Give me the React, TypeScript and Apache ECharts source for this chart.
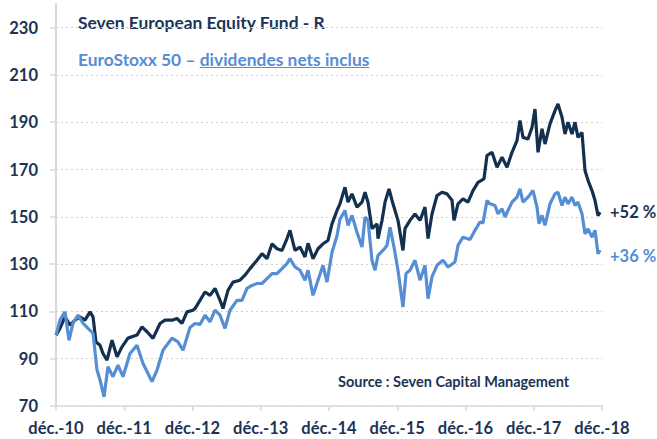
import React, { useEffect, useRef } from 'react';
import * as echarts from 'echarts';

// ---- Data (months since Dec 2010, index value base 100) ----
const xLabels = ['déc.-10', 'déc.-11', 'déc.-12', 'déc.-13', 'déc.-14', 'déc.-15', 'déc.-16', 'déc.-17', 'déc.-18'];
const yTicks = [70, 90, 110, 130, 150, 170, 190, 210, 230];

const seriesNames = ['Seven European Equity Fund - R', 'EuroStoxx 50 – dividendes nets inclus'];
const legendPrefix = 'EuroStoxx 50 – ';
const legendUnderlined = 'dividendes nets inclus';
const endLabels = ['+52 %', '+36 %'];
const sourceText = 'Source : Seven Capital Management';

const fundMonths = [
  0, 0.7, 1.58, 2.46, 3.34, 4.22, 5.1, 5.98, 6.51, 7.03, 7.74, 8.26, 8.97, 9.85, 10.73, 11.6, 12.66, 14.24, 15.12, 16.0,
  17.05, 18.29, 19.16, 20.4, 21.27, 22.15, 23.03, 24.09, 24.44, 25.32, 26.2, 27.08, 27.96, 28.84, 29.36, 30.24, 31.12,
  32.35, 33.23, 34.11, 35.34, 36.22, 37.1, 37.98, 38.86, 39.74, 40.62, 41.14, 42.02, 42.9, 43.78, 44.31, 45.19, 46.07,
  46.95, 47.82, 48.53, 49.41, 49.93, 50.81, 51.34, 52.04, 52.92, 53.8, 54.33, 54.86, 55.56, 56.44, 56.62, 57.32, 57.85,
  58.55, 59.25, 60.13, 61.01, 61.36, 62.24, 63.12, 64.0, 64.88, 65.41, 66.11, 66.99, 67.87, 68.75, 69.63, 69.98, 70.68,
  71.56, 72.44, 73.32, 74.2, 75.25, 75.78, 76.66, 77.54, 78.42, 79.3, 80.18, 81.05, 81.58, 82.11, 82.99, 83.69, 84.22,
  84.75, 85.45, 85.98, 86.86, 87.74, 88.26, 88.97, 89.49, 90.02, 90.73, 91.25, 91.78, 92.48, 93.01, 93.54, 94.24, 94.77,
  95.3, 95.65,
];
const fundValues = [
  100, 102.8, 107.7, 104.2, 106.3, 107.7, 106.3, 109.8, 107.7, 97.1, 95.7, 92.2, 89.4, 97.8, 90.8, 95, 98.7, 100, 103.5, 101.4,
  98.6, 104.9, 106.3, 106.3, 107, 104.9, 109.8, 110.5, 111.2, 114.7, 118.2, 116.8, 119.7, 114.7, 111.2, 118.9, 122.4,
  123.2, 125.3, 128.1, 131.6, 134.4, 132.3, 138.6, 136.5, 135.8, 140.8, 144.3, 135.8, 137.2, 133, 138.8, 132.3, 136.5,
  138.6, 140, 147, 152.7, 155.5, 162.5, 156.2, 159.7, 154.1, 156.2, 160.4, 156.2, 145, 147, 140.8, 148.5, 156.2,
  161.8, 155.5, 148.5, 135.8, 145, 148.5, 151.2, 148.5, 154.1, 140.8, 151.2, 159, 160.4, 159.7, 157, 148.5, 155.5,
  157.6, 156.2, 161.1, 164.6, 166.1, 175.9, 177.3, 171, 175.2, 171, 177.3, 182.2, 190.7, 183.6, 182.9, 187.8, 195.6,
  177.3, 187.2, 180.8, 189.3, 194.9, 197.7, 192.1, 185, 190, 185, 190, 183.6, 185.7, 169.6, 165.4, 161.1, 156.9,
  150.5, 152,
];

const indexMonths = [
  0, 0.7, 1.58, 2.29, 2.99, 3.87, 4.75, 5.63, 6.51, 7.21, 7.74, 8.44, 9.14, 10.02, 10.9, 11.78, 13.01, 14.24, 15.3, 16.88,
  17.76, 18.81, 20.4, 21.45, 22.33, 23.56, 24.44, 25.32, 26.2, 27.08, 27.96, 28.84, 29.71, 30.59, 31.82, 32.7, 33.58,
  34.46, 35.34, 36.22, 37.1, 37.98, 38.86, 39.74, 40.62, 41.14, 42.02, 42.9, 43.78, 44.31, 45.19, 46.07, 46.95, 47.65,
  48.53, 49.41, 49.93, 50.81, 51.34, 52.04, 52.92, 53.8, 54.33, 54.86, 55.56, 56.09, 56.62, 57.49, 58.2, 58.73, 59.43,
  60.13, 61.01, 61.54, 62.24, 63.12, 64.0, 64.88, 65.41, 66.11, 66.99, 68.04, 68.92, 70.15, 70.68, 71.56, 72.79, 73.67,
  74.55, 75.08, 75.78, 76.31, 77.19, 77.71, 78.42, 78.95, 79.47, 80.18, 81.05, 81.58, 82.11, 82.99, 83.87, 84.57, 84.92,
  85.45, 85.98, 86.86, 87.74, 88.26, 88.97, 89.49, 90.02, 90.73, 91.25, 91.78, 92.48, 93.01, 93.54, 94.24, 94.77, 95.3,
  95.65,
];
const indexValues = [
  100, 106.3, 109.8, 97.8, 105, 108.4, 105, 102.8, 100.8, 85.2, 81, 73.9, 86.6, 82.4, 87.3, 82.4, 92.2, 95.7, 88, 80.3,
  85.2, 93.6, 98.7, 97.1, 93.6, 103.2, 104.9, 104.5, 108.4, 105.6, 110.5, 108.4, 102.8, 110.5, 114.7, 114.7, 119.7,
  121, 121.8, 121.8, 123.9, 126, 126, 128.1, 130.2, 132.3, 128.8, 127.4, 123.2, 127.4, 116.8, 123.2, 129.5, 122.4,
  135, 142, 149, 152.7, 146.4, 150.6, 143.5, 137.2, 149.9, 148.5, 131.6, 127.4, 133.7, 135.8, 137.9, 145.6, 137.2,
  127.4, 111.9, 126, 127.4, 131.6, 123.2, 129.5, 115.4, 124.6, 129.5, 131.6, 128.8, 130.9, 137.9, 141.4, 140.4, 144.3,
  147.8, 147.4, 156.9, 155.5, 154.8, 151.3, 153.4, 149.9, 152.7, 156.2, 158.3, 161.8, 156.2, 158.3, 161.1, 154.1, 147.1,
  150.6, 146.4, 155.5, 159.7, 160.4, 154.8, 158.3, 155.5, 158.3, 154.8, 156.2, 151.3, 142.8, 144.9, 141.4, 144.3, 134.4,
  136,
];

// ---- Styles ----
const FONT = 'Lato, "Open Sans", sans-serif';
const NAVY_LINE = '#13304F';
const NAVY_TEXT = '#1B3456';
const BLUE = '#558ED5';
const GRAY = '#D9D9D9';

const zip = (xs: number[], ys: number[]) => xs.map((x, i) => [x, ys[i]]);

function measure(text: string, font: string): number {
  const c = document.createElement('canvas').getContext('2d');
  if (!c) return text.length * 8;
  c.font = font;
  return c.measureText(text).width;
}

export default function App() {
  const ref = useRef<HTMLDivElement>(null);

  useEffect(() => {
    if (!ref.current) return;
    const chart = echarts.init(ref.current, null, { renderer: 'svg' });

    const legendFont = `bold 17.4px ${FONT}`;
    const legendX = 78;
    const prefixW = measure(legendPrefix, legendFont);
    const underW = measure(legendUnderlined, legendFont);

    const axisText = {
      color: NAVY_TEXT,
      fontFamily: FONT,
      fontWeight: 'bold',
      fontSize: 16.5,
    };

    const option: any = {
      animation: false,
      backgroundColor: '#FFFFFF',
      grid: { left: 56, right: 55, top: 4, bottom: 33, containLabel: false },
      xAxis: {
        type: 'value',
        min: 0,
        max: 96,
        interval: 12,
        axisLine: { show: true, lineStyle: { color: GRAY, width: 1.5 } },
        axisTick: { show: true, length: 5, lineStyle: { color: GRAY, width: 1.5 } },
        splitLine: { show: false },
        axisLabel: {
          margin: 13,
          ...axisText,
          formatter: (v: number) => xLabels[Math.round(v / 12)] ?? '',
        },
      },
      yAxis: {
        type: 'value',
        min: 70,
        max: 240,
        axisLine: { show: true, lineStyle: { color: GRAY, width: 2 } },
        axisTick: { show: true, length: 6, customValues: yTicks, lineStyle: { color: GRAY, width: 1.5 } },
        splitLine: { show: true, lineStyle: { color: '#CFCFCF', type: [2, 3], width: 1 } },
        axisLabel: {
          customValues: yTicks,
          margin: 18,
          ...axisText,
        },
      },
      series: [
        {
          name: seriesNames[0],
          type: 'line',
          data: zip(fundMonths, fundValues),
          showSymbol: false,
          symbol: 'none',
          lineStyle: { color: NAVY_LINE, width: 3.2 },
          itemStyle: { color: NAVY_LINE },
          endLabel: {
            show: true,
            formatter: () => endLabels[0],
            distance: 10,
            ...axisText,
          },
          z: 2,
        },
        {
          name: seriesNames[1],
          type: 'line',
          data: zip(indexMonths, indexValues),
          showSymbol: false,
          symbol: 'none',
          lineStyle: { color: BLUE, width: 3.2 },
          itemStyle: { color: BLUE },
          endLabel: {
            show: true,
            formatter: () => endLabels[1],
            distance: 10,
            offset: [0, 6],
            ...axisText,
            color: BLUE,
          },
          z: 3,
        },
      ],
      graphic: [
        {
          type: 'text',
          x: legendX,
          y: 22,
          style: { text: seriesNames[0], font: legendFont, fill: NAVY_TEXT, verticalAlign: 'middle' },
        },
        {
          type: 'text',
          x: legendX,
          y: 59,
          style: { text: legendPrefix, font: legendFont, fill: BLUE, verticalAlign: 'middle' },
        },
        {
          type: 'text',
          x: legendX + prefixW,
          y: 59,
          style: { text: legendUnderlined, font: legendFont, fill: BLUE, verticalAlign: 'middle' },
        },
        {
          type: 'line',
          shape: { x1: legendX + prefixW, y1: 67.5, x2: legendX + prefixW + underW, y2: 67.5 },
          style: { stroke: BLUE, lineWidth: 1.2 },
        },
        {
          type: 'text',
          x: 338,
          y: 381,
          style: { text: sourceText, font: `bold 14.5px ${FONT}`, fill: NAVY_TEXT, verticalAlign: 'middle' },
        },
      ],
    };

    chart.setOption(option);
    return () => chart.dispose();
  }, []);

  return <div ref={ref} style={{ position: 'fixed', left: 0, top: 0, width: 657, height: 439 }} />;
}
